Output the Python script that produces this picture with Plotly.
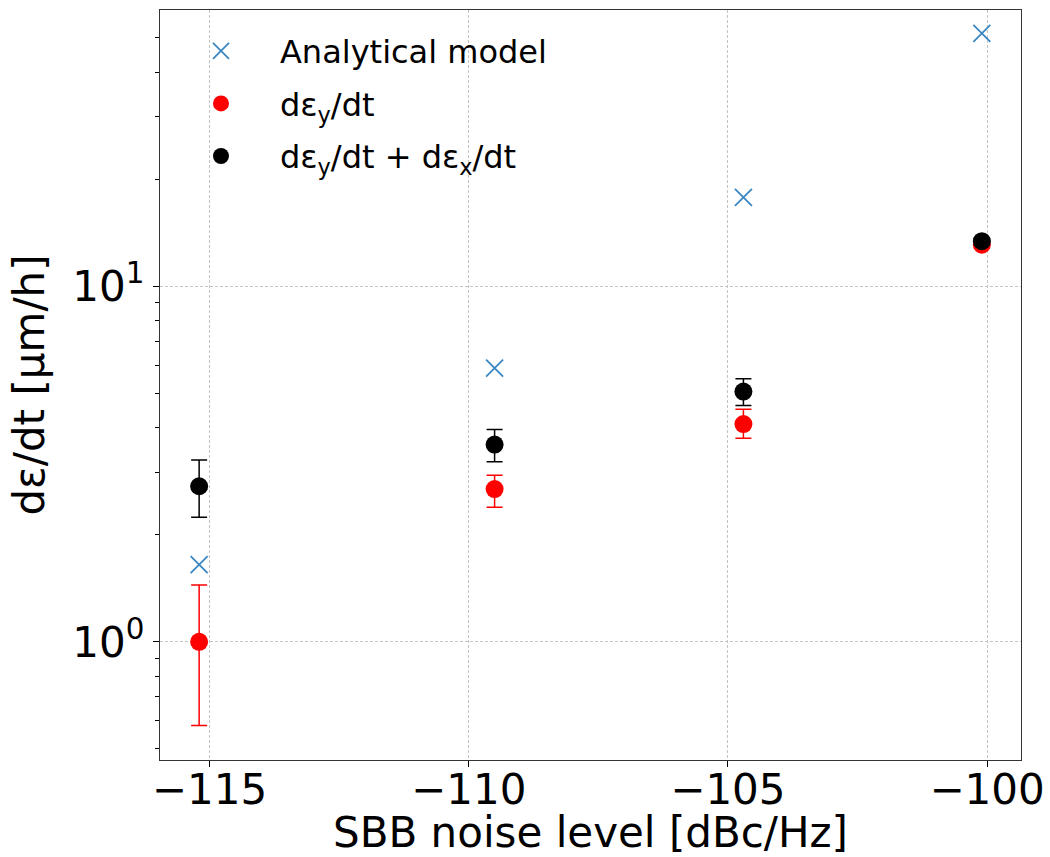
import plotly.graph_objects as go

# Data
noise_level = [-115.2, -109.5, -104.7, -100.1]

analytical = [1.65, 5.89, 17.8, 51.5]

deps_y = [1.00, 2.69, 4.10, 13.1]
deps_y_err_plus = [0.445, 0.25, 0.41, 0.3]
deps_y_err_minus = [0.418, 0.30, 0.36, 0.3]

deps_xy = [2.74, 3.59, 5.06, 13.4]
deps_xy_err_plus = [0.51, 0.37, 0.44, 0.3]
deps_xy_err_minus = [0.50, 0.38, 0.44, 0.3]

x_ticks = [-115, -110, -105, -100]
x_tick_text = ["\u2212115", "\u2212110", "\u2212105", "\u2212100"]
y_ticks = [1, 10]
y_tick_text = ["10<sup>0</sup>", "10<sup>1</sup>"]

FONT = "DejaVu Sans"

fig = go.Figure()

fig.add_trace(go.Scatter(
    x=noise_level, y=analytical, mode="markers", name="Analytical model",
    legendgroup="a",
    marker=dict(symbol="x-thin", size=17, color="#1f77b4",
                line=dict(width=1.8, color="#3a87c2")),
))

fig.add_trace(go.Scatter(
    x=noise_level, y=deps_y, mode="markers", name="d\u03b5<sub>y</sub>/dt",
    legendgroup="b",
    marker=dict(symbol="circle", size=18, color="red"),
    error_y=dict(type="data", array=deps_y_err_plus, arrayminus=deps_y_err_minus,
                 color="red", thickness=1.5, width=8),
))

fig.add_trace(go.Scatter(
    x=noise_level, y=deps_xy, mode="markers",
    name="d\u03b5<sub>y</sub>/dt + d\u03b5<sub>x</sub>/dt",
    legendgroup="c",
    marker=dict(symbol="circle", size=18, color="black"),
    error_y=dict(type="data", array=deps_xy_err_plus, arrayminus=deps_xy_err_minus,
                 color="black", thickness=1.5, width=8),
))

fig.update_layout(
    width=1050, height=857,
    margin=dict(l=160, r=29, t=10, b=97),
    paper_bgcolor="white", plot_bgcolor="white",
    font=dict(family=FONT, color="black"),
    showlegend=True,
    legend=dict(
        x=0.0023, y=0.982, xanchor="left", yanchor="top",
        bgcolor="rgba(0,0,0,0)", borderwidth=0,
        font=dict(family=FONT, size=32, color="black"),
        itemwidth=108, tracegroupgap=8,
    ),
)

fig.update_xaxes(
    range=[-115.955, -99.345], automargin=False,
    tickmode="array", tickvals=x_ticks, ticktext=x_tick_text,
    tickfont=dict(family=FONT, size=42, color="black"),
    ticks="outside", ticklen=6, tickwidth=1.2, tickcolor="black",
    ticklabelstandoff=-14,
    showline=True, linecolor="#333333", linewidth=1.3, mirror=True,
    showgrid=True, gridcolor="#c4c4c4", gridwidth=1, griddash="3px,2px",
    zeroline=False,
    title=dict(text="SBB noise level [dBc/Hz]",
               font=dict(family=FONT, size=42, color="black"), standoff=10),
)

fig.update_yaxes(
    type="log", range=[-0.3324, 1.7775], automargin=False,
    tickmode="array", tickvals=y_ticks, ticktext=y_tick_text,
    tickfont=dict(family=FONT, size=42, color="black"),
    ticks="outside", ticklen=6, tickwidth=1.2, tickcolor="black",
    minor=dict(ticks="outside", ticklen=3.5, tickcolor="black", tickwidth=1,
               dtick="D1", showgrid=False),
    showline=True, linecolor="#333333", linewidth=1.3, mirror=True,
    showgrid=True, gridcolor="#c4c4c4", gridwidth=1, griddash="3px,2px",
    zeroline=False,
    title=dict(text="d\u03b5/dt [\u00b5m/h]",
               font=dict(family=FONT, size=42, color="black"), standoff=14),
)

fig.write_html("out.html")
